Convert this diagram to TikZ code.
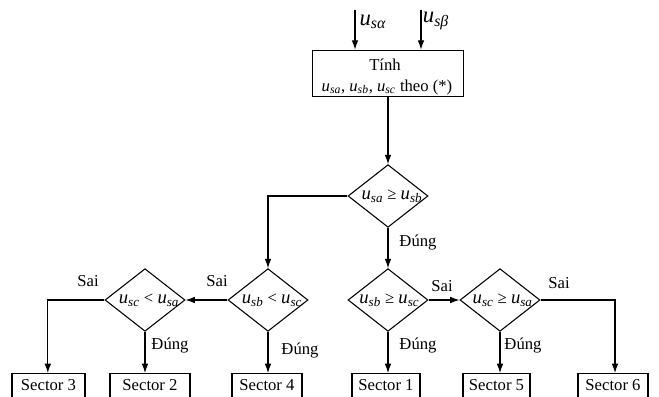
\documentclass[tikz,border=0pt]{standalone}
\usepackage{fontspec}
\setmainfont{Liberation Serif}
\usetikzlibrary{shapes.geometric,arrows.meta}
\newcommand\uvar[1]{\textit{u}\textsubscript{\textit{#1}}}
\newcommand\ubig[1]{{\fontsize{14}{14}\selectfont\textit{u}\textsubscript{\textit{#1}}}}
\newcommand\utop[1]{{\fontsize{17}{17}\selectfont\textit{u}\textsubscript{\textit{#1}}}}
\begin{document}
\begin{tikzpicture}[x=0.75pt,y=-0.75pt,
  font=\fontsize{12.5}{14}\selectfont,
  line width=0.8pt,
  arr/.style={-{Latex[length=7pt,width=5pt]}},
  dia/.style={draw,diamond,inner sep=0pt,minimum width=60pt,minimum height=47pt},
  sbox/.style={draw,rectangle,anchor=north,inner sep=3pt,text height=9.5pt,text depth=12pt},
  lbl/.style={inner sep=0pt}]
\useasboundingbox (0,0) rectangle (659,396);
\clip (0,0) rectangle (659,396);
% top box
\node[draw,rectangle,minimum width=113pt,minimum height=35pt,inner sep=0pt] (top) at (388,73.5) {};
\node[lbl] (toptxt1) at (385,65) {Tính};
\node[lbl] (toptxt2) at (387,87) {\uvar{sa}, \uvar{sb}, \uvar{sc} theo (*)};
\coordinate (ia) at (355,10);
\coordinate (ib) at (421,10);
\draw[arr] (ia) -- (ia |- top.north);
\draw[arr] (ib) -- (ib |- top.north);
\node[lbl] (la) at (373,22) {\utop{sα}};
\node[lbl] (lb) at (436,21) {\utop{sβ}};
% diamonds
\node[dia] (d1) at (388,196) {};
\node[lbl] at ([xshift=3pt]d1) {\ubig{sa} ≥ \ubig{sb}};
\node[dia] (d2) at (268,300) {};
\node[lbl] at ([xshift=3pt]d2) {\ubig{sb} < \ubig{sc}};
\node[dia] (d3) at (145,300) {};
\node[lbl] at ([xshift=3pt]d3) {\ubig{sc} < \ubig{sa}};
\node[dia] (d4) at (388,300) {};
\node[lbl] at ([xshift=1pt]d4) {\ubig{sb} ≥ \ubig{sc}};
\node[dia] (d5) at (500,300) {};
\node[lbl] at ([xshift=2pt]d5) {\ubig{sc} ≥ \ubig{sa}};
% sectors
\node[sbox,minimum width=54.75pt] (s3) at (48.5,373) {Sector 3};
\node[sbox,minimum width=60pt] (s2) at (150,373) {Sector 2};
\node[sbox,minimum width=52.5pt] (s4) at (267,373) {Sector 4};
\node[sbox,minimum width=51pt] (s1) at (386,373) {Sector 1};
\node[sbox,minimum width=50.25pt] (s5) at (496.5,373) {Sector 5};
\node[sbox,minimum width=52.5pt] (s6) at (613,373) {Sector 6};
% connectors
\draw[arr] (top.south) -- (d1.north);
\draw[arr] (d1.west) -| (d2.north);
\draw[arr] (d1.south) -- (d4.north);
\draw[arr] (d2.west) -- (d3.east);
\draw[arr] (d3.west) -| ([xshift=-0.5pt]s3.north);
\draw[arr] (d3.south) -- (d3.south |- s2.north);
\draw[arr] (d2.south) -- (d2.south |- s4.north);
\draw[arr] (d4.south) -- (d4.south |- s1.north);
\draw[arr] (d4.east) -- (d5.west);
\draw[arr] (d5.south) -- (d5.south |- s5.north);
\draw[arr] (d5.east) -| ([xshift=1.5pt]s6.north);
% labels
\node[lbl] at (418,242) {Đúng};
\node[lbl] at (88,281) {Sai};
\node[lbl] at (217,281) {Sai};
\node[lbl] at (442,286) {Sai};
\node[lbl] at (559,283) {Sai};
\node[lbl] at (170,345) {Đúng};
\node[lbl] at (300,350) {Đúng};
\node[lbl] at (418,345) {Đúng};
\node[lbl] at (523,345) {Đúng};
\end{tikzpicture}
\end{document}
